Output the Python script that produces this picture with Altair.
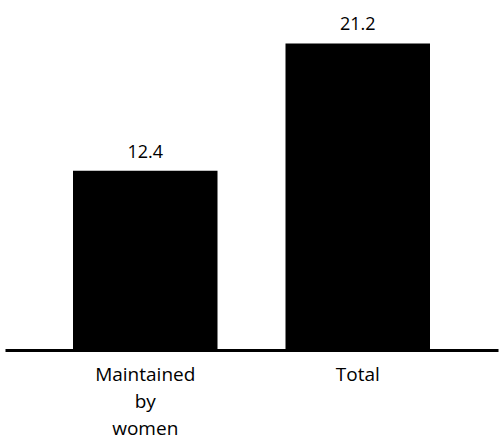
import altair as alt
import pandas as pd

# Households (millions): maintained by women vs. all households
categories = ["Maintained by women", "Total"]
axis_labels = ["Maintained|by|women", "Total"]
values = [12.4, 21.2]

df = pd.DataFrame({"category": categories, "label": axis_labels, "value": values})

FONT = "Open Sans"

x_enc = alt.X(
    "category:N",
    sort=categories,
    scale=alt.Scale(paddingInner=0.32, paddingOuter=0.32),
    axis=alt.Axis(
        title=None,
        ticks=False,
        domain=True,
        domainColor="black",
        domainWidth=3,
        labelAngle=0,
        labelFont=FONT,
        labelFontSize=19,
        labelColor="black",
        labelPadding=15,
        labelLineHeight=27,
        labelExpr="split(datum.label == 'Total' ? 'Total' : 'Maintained|by|women', '|')",
    ),
)
y_enc = alt.Y(
    "value:Q",
    scale=alt.Scale(domain=[0, 24], nice=False),
    axis=None,
)

bars = alt.Chart(df).mark_bar(color="black").encode(x=x_enc, y=y_enc)

text = alt.Chart(df).mark_text(
    font=FONT, fontSize=18, color="black", baseline="alphabetic", dy=-13
).encode(
    x=alt.X("category:N", sort=categories),
    y="value:Q",
    text=alt.Text("value:Q", format=".1f"),
)

chart = (
    alt.layer(bars, text)
    .properties(
        width=493,
        height=347,
        padding={"left": 5, "top": 3, "right": 2, "bottom": 2},
        background="white",
    )
    .configure_view(stroke=None)
)

chart.save("out.html", embed_options={"renderer": "svg", "actions": False})
